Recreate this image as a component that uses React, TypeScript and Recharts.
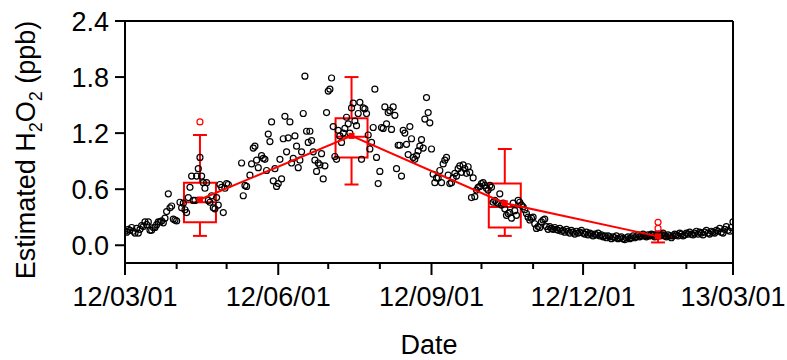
import React from 'react'
import {
  ComposedChart,
  Scatter,
  XAxis,
  YAxis,
  ReferenceArea,
  ReferenceLine,
  Label,
} from 'recharts'

// daily H2O2 estimates, day 0 = 2012/03/01 (runs of consecutive days)
const runStarts = [0, 33, 70, 128, 189, 255]
const marchRun = [
  0.15, 0.14, 0.17, 0.16, 0.19, 0.15, 0.13, 0.18, 0.13, 0.17, 0.21, 0.2, 0.25, 0.22, 0.25, 0.16,
  0.16, 0.19, 0.19, 0.22, 0.25, 0.25, 0.26, 0.24, 0.29, 0.36, 0.55, 0.4, 0.42, 0.28, 0.27, 0.26,
]
const aprilRun = [
  0.46, 0.4, 0.45, 0.38, 0.35, 0.51, 0.62, 0.74, 0.48, 0.48, 0.74, 0.82, 0.94, 0.74, 0.67, 0.61,
  0.67, 0.48, 0.46, 0.53, 0.4, 0.39, 0.51, 0.43, 0.65, 0.62, 0.35, 0.61, 0.66, 0.65,
]
const mayJuneRun = [
  0.88, 0.53, 0.64, 0.63, null, 0.75, 0.87, 1.04, 1.06, 0.91, 0.83, null, 0.96, 0.93, 0.92, 0.8,
  1.19, 1.11, 1.32, 0.69, 0.82, 0.63, 0.66, 0.92, 0.71, 1.14, 1.38, 1.0, 1.15, 1.32, 0.88, 0.93,
  1.17, 1.06, 0.83, 0.91, 1.0, 1.41, 1.81, 1.22, 1.1, 1.22, 1.12, 1.0, 0.91, 0.79, 0.88, 0.86,
  0.98, 0.71, 0.85, 1.42, 1.65, 1.67, 1.79, 1.27, 0.95, 0.92,
]
const summerRun = [
  1.23, 1.17, 1.1, 1.2, 1.25, 1.37, 1.3, 1.2, 1.47, 1.52, 1.33, 1.28, 1.41, 1.53, 0.92, 1.47,
  1.46, 1.41, 1.18, 1.03, 1.1, 1.26, 1.67, 0.94, 0.66, 0.79, 1.26, 1.25, 1.48, 1.3, 1.42, 1.44,
  1.24, 1.48, 1.39, 0.82, 1.07, 1.07, 0.74, 1.23, 1.2, 1.08, 0.97, 1.27, 1.14, 0.94, 0.92, 0.96,
  1.01, 1.06, 1.13, 1.04, 1.35, 1.58, 1.42, 1.31, 1.03, 0.76, 0.67, 0.72, 0.72,
]
const autumnRun = [
  0.8, 0.67, 0.87, 0.91, 0.94, 0.75, 0.66, 0.67, 0.72, 0.77, 0.74, 0.82, 0.85, 0.78, 0.86, 0.82,
  0.77, 0.84, 0.78, 0.51, 0.72, 0.52, 0.59, 0.62, 0.63, 0.66, 0.67, 0.64, 0.61, 0.59, 0.64, 0.62,
  0.46, 0.48, 0.46, 0.45, 0.55, 0.43, 0.45, 0.39, 0.32, 0.34, 0.35, 0.29, 0.45, 0.37, 0.32, 0.48,
  0.46, 0.43, 0.41, 0.38, 0.34, 0.3, 0.27, 0.29, 0.3, 0.23, 0.18, 0.2, 0.19, 0.25, 0.27, 0.28,
  0.2, 0.17,
]
const winterRun = [
  0.2, 0.18, 0.17, 0.19, 0.17, 0.16, 0.18,
  0.15, 0.16, 0.14, 0.17, 0.15, 0.13, 0.16, 0.14, 0.12, 0.15, 0.13, 0.14, 0.16, 0.13, 0.12, 0.14,
  0.11, 0.13, 0.12, 0.1, 0.12, 0.11, 0.13, 0.1,
  0.11, 0.09, 0.1, 0.08, 0.1, 0.09, 0.07, 0.09, 0.08, 0.1, 0.07, 0.08, 0.09, 0.07, 0.06, 0.08,
  0.09, 0.07, 0.08, 0.1, 0.08, 0.09, 0.11, 0.09,
  0.1, 0.12, 0.1, 0.09, 0.11, 0.1, 0.12, 0.11, 0.09, 0.1, 0.12, 0.1, 0.11, 0.13, 0.1, 0.09,
  0.11, 0.1, 0.08, 0.1, 0.12, 0.11, 0.1, 0.13, 0.12, 0.1, 0.11, 0.13, 0.12, 0.14, 0.12,
  0.11, 0.13, 0.15, 0.12, 0.14, 0.13, 0.11, 0.14, 0.16, 0.13, 0.12, 0.15, 0.14, 0.13, 0.16, 0.15,
  0.18, 0.14, 0.13, 0.17, 0.2, 0.16, 0.15, 0.19, 0.25,
]
const runs = [marchRun, aprilRun, mayJuneRun, summerRun, autumnRun, winterRun]

// seasonal box plots (Apr, Jul, Oct, Jan), centred mid-month
const boxDays = [45, 136, 228, 320]
const boxMin = [0.1, 0.65, 0.1, 0.03]
const boxQ1 = [0.245, 0.94, 0.19, 0.075]
const boxMedian = [0.46, 1.16, 0.41, 0.09]
const boxQ3 = [0.67, 1.36, 0.66, 0.105]
const boxMax = [1.18, 1.8, 1.03, 0.14]
const boxMean = [0.49, 1.17, 0.45, 0.095]
const outlierDays = [45, 320, 320]
const outlierValues = [1.32, 0.245, 0.18]

const monthTicks = [0, 31, 61, 92, 122, 153, 184, 214, 245, 275, 306, 337, 365]
const majorTicks = [0, 92, 184, 275, 365]
const yTicks = [0, 0.6, 1.2, 1.8, 2.4]

const FONT = '"Liberation Sans", Arial, sans-serif'
const RED = '#ff0000'
const BOX_HALF = 9.6
const CAP_HALF = 4.2

const obsData = runs.flatMap((vals, r) =>
  vals
    .map((v, i) => ({ day: runStarts[r] + i, value: v }))
    .filter((p) => p.value !== null)
)
const meanData = boxDays.map((d, i) => ({ day: d, value: boxMean[i] }))
const outlierData = outlierDays.map((d, i) => ({ day: d, value: outlierValues[i] }))

const dayLabel = (day: number) => {
  const t = new Date(Date.UTC(2012, 2, 1) + day * 86400000)
  const p = (n: number) => String(n).padStart(2, '0')
  return `${p(t.getUTCFullYear() % 100)}/${p(t.getUTCMonth() + 1)}/${p(t.getUTCDate())}`
}

const DateTick = ({ x, y, payload }: any) => {
  const major = majorTicks.includes(payload.value)
  return (
    <g>
      <line x1={x} x2={x} y1={y} y2={y + (major ? 12 : 6)} stroke="#000" strokeWidth={2} />
      {major && (
        <text x={x} y={y + 43} textAnchor="middle" fontSize={27} fontFamily={FONT} fill="#000">
          {dayLabel(payload.value)}
        </text>
      )}
    </g>
  )
}

const YTitle = ({ viewBox }: any) => {
  const cx = 35
  const cy = viewBox.y + viewBox.height / 2 + 8
  return (
    <text
      x={cx}
      y={cy}
      transform={`rotate(-90 ${cx} ${cy})`}
      textAnchor="middle"
      fontSize={27}
      fontFamily={FONT}
      fill="#000"
    >
      Estimated H
      <tspan fontSize={18} dy={7}>2</tspan>
      <tspan dy={-7}>O</tspan>
      <tspan fontSize={18} dy={7}>2</tspan>
      <tspan dy={-7}> (ppb)</tspan>
    </text>
  )
}

const OpenCircle = ({ cx, cy }: any) => (
  <circle cx={cx} cy={cy} r={3} fill="none" stroke="#000" strokeWidth={1.2} />
)
const RedCircle = ({ cx, cy }: any) => (
  <circle cx={cx} cy={cy} r={3} fill="none" stroke={RED} strokeWidth={1.2} />
)
const MeanSquare = ({ cx, cy }: any) => (
  <rect x={cx - 3} y={cy - 3} width={6} height={6} fill={RED} />
)

export default function App() {
  return (
    <div style={{ position: 'absolute', left: 0, top: 0, background: '#fff' }}>
      <ComposedChart
        width={787}
        height={360}
        margin={{ top: 21, right: 54, bottom: 0, left: 0 }}
      >
        <XAxis
          type="number"
          dataKey="day"
          domain={[0, 365]}
          ticks={monthTicks}
          interval={0}
          allowDataOverflow
          height={97}
          tickSize={0}
          tickMargin={0}
          tickLine={false}
          tick={<DateTick />}
          axisLine={{ stroke: '#000', strokeWidth: 2 }}
        >
          <Label
            value="Date"
            position="insideBottom"
            offset={6}
            style={{ fontSize: 27, fontFamily: FONT, fill: '#000' }}
          />
        </XAxis>
        <YAxis
          type="number"
          dataKey="value"
          domain={[-0.19, 2.4]}
          ticks={yTicks}
          allowDataOverflow
          width={125}
          tickSize={10}
          tickMargin={6}
          tickFormatter={(v: number) => v.toFixed(1)}
          tick={{ fontSize: 27, fontFamily: FONT, fill: '#000' }}
          tickLine={{ stroke: '#000', strokeWidth: 2 }}
          axisLine={{ stroke: '#000', strokeWidth: 2 }}
        >
          <Label content={<YTitle />} />
        </YAxis>

        <ReferenceLine y={2.4} stroke="#000" strokeWidth={2} />
        <ReferenceLine x={365} stroke="#000" strokeWidth={2} />

        <Scatter data={obsData} shape={<OpenCircle />} isAnimationActive={false} />

        {boxDays.map((d, i) => (
          <ReferenceArea
            key={`box-${i}`}
            x1={d - BOX_HALF}
            x2={d + BOX_HALF}
            y1={boxQ1[i]}
            y2={boxQ3[i]}
            fill="none"
            stroke={RED}
            strokeWidth={2}
          />
        ))}
        {boxDays.map((d, i) => (
          <ReferenceLine
            key={`med-${i}`}
            segment={[{ x: d - BOX_HALF, y: boxMedian[i] }, { x: d + BOX_HALF, y: boxMedian[i] }]}
            stroke={RED}
            strokeWidth={2}
          />
        ))}
        {boxDays.map((d, i) => (
          <ReferenceLine
            key={`wu-${i}`}
            segment={[{ x: d, y: boxQ3[i] }, { x: d, y: boxMax[i] }]}
            stroke={RED}
            strokeWidth={2}
          />
        ))}
        {boxDays.map((d, i) => (
          <ReferenceLine
            key={`wl-${i}`}
            segment={[{ x: d, y: boxMin[i] }, { x: d, y: boxQ1[i] }]}
            stroke={RED}
            strokeWidth={2}
          />
        ))}
        {boxDays.map((d, i) => (
          <ReferenceLine
            key={`cu-${i}`}
            segment={[{ x: d - CAP_HALF, y: boxMax[i] }, { x: d + CAP_HALF, y: boxMax[i] }]}
            stroke={RED}
            strokeWidth={2}
          />
        ))}
        {boxDays.map((d, i) => (
          <ReferenceLine
            key={`cl-${i}`}
            segment={[{ x: d - CAP_HALF, y: boxMin[i] }, { x: d + CAP_HALF, y: boxMin[i] }]}
            stroke={RED}
            strokeWidth={2}
          />
        ))}

        <Scatter data={outlierData} shape={<RedCircle />} isAnimationActive={false} />
        <Scatter
          data={meanData}
          shape={<MeanSquare />}
          line={{ stroke: RED, strokeWidth: 2 }}
          lineType="joint"
          isAnimationActive={false}
        />
      </ComposedChart>
    </div>
  )
}
